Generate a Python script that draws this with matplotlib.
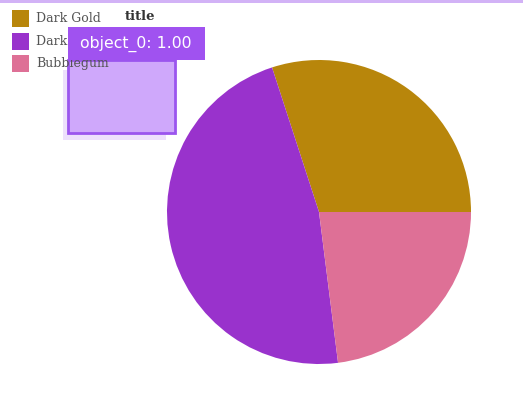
import matplotlib
matplotlib.use("Agg")
import matplotlib.pyplot as plt
from matplotlib.patches import Rectangle

labels = ["Dark Gold", "Dark Orchid", "Bubblegum"]
values = [30, 47, 23]
colors = ["#b8860b", "#9932cc", "#de7096"]
title = "title"
tooltip = "object_0: 1.00"

W, H = 523, 400
fig = plt.figure(figsize=(W / 100, H / 100), dpi=100)

def fx(x):
    return x / W

def fy(y):
    return 1 - y / H

# top line
fig.add_artist(Rectangle((0, fy(3)), 1, 3 / H, transform=fig.transFigure,
                         facecolor="#d2b2f6", edgecolor="none"))

cx, cy, r = 319, 212, 152
ax = fig.add_axes([fx(cx - r), fy(cy + r), 2 * r / W, 2 * r / H])
ax.pie(values, colors=colors, startangle=0, counterclock=True,
       wedgeprops=dict(linewidth=0))
ax.set_xlim(-1, 1)
ax.set_ylim(-1, 1)
ax.set_aspect("auto")
ax.axis("off")

fig.text(fx(140), fy(17), title, ha="center", va="center",
         family="DejaVu Serif", fontweight="bold", fontsize=9.5, color="#333333")

# legend
for i, (lab, col) in enumerate(zip(labels, colors)):
    yc = 19 + i * 22.5
    fig.add_artist(Rectangle((fx(12), fy(yc + 8)), 17 / W, 17 / H,
                             transform=fig.transFigure, facecolor=col,
                             edgecolor="none"))

# light box with shadow
fig.add_artist(Rectangle((fx(63), fy(140)), 103 / W, 70 / H,
                         transform=fig.transFigure, facecolor="#e6d4fb",
                         edgecolor="none", alpha=0.7))
fig.add_artist(Rectangle((fx(68), fy(133)), 107 / W, 73 / H,
                         transform=fig.transFigure, facecolor="#cfa8fb",
                         edgecolor="#9b55ee", linewidth=2))

for i, lab in enumerate(labels):
    yc = 19 + i * 22.5
    fig.text(fx(36), fy(yc), lab, ha="left", va="center",
             family="DejaVu Serif", fontsize=9, color="#555555", zorder=3)

# tooltip (covers part of the legend, as in the reference)
fig.add_artist(Rectangle((fx(68), fy(60)), 137 / W, 33 / H,
                         transform=fig.transFigure, facecolor="#a052f0",
                         edgecolor="none", zorder=5))
fig.text(fx(136), fy(44), tooltip, ha="center", va="center",
         family="DejaVu Sans", fontsize=11.3, color="white", zorder=6)

fig.savefig("out.png", dpi=100)
